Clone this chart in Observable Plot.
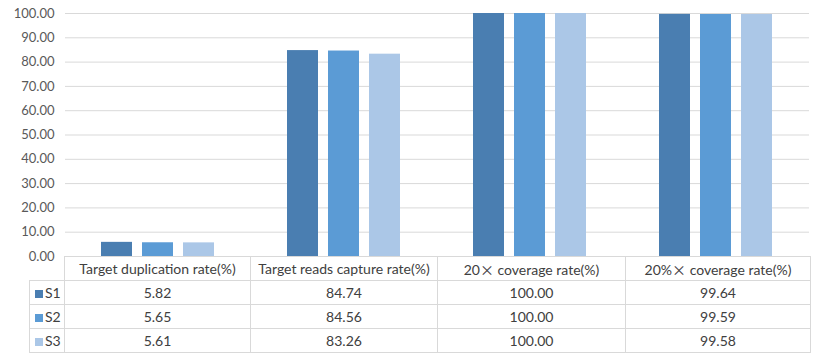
<!DOCTYPE html>
<html>
<head>
<meta charset="utf-8">
<script src="https://cdn.jsdelivr.net/npm/d3@7"></script>
<script src="https://cdn.jsdelivr.net/npm/@observablehq/plot@0.6"></script>
<style>
  html, body { margin: 0; padding: 0; background: #fff; }
  #wrap { position: relative; width: 820px; height: 362px; font-family: Lato, "Noto Sans", sans-serif; }
  #wrap svg { position: absolute; left: 0; top: 0; }
  table.dt { position: absolute; left: 29px; top: 256px; border-collapse: collapse; table-layout: fixed; font-size: 14px; color: #404040; }
  table.dt td { border: 1px solid #d9d9d9; height: 23px; padding: 0; text-align: center; white-space: nowrap; overflow: hidden; }
  table.dt td.blank { border-top: none; border-left: none; }
  table.dt td.leg { text-align: left; padding-left: 5px; }
  .sw { display: inline-block; width: 8px; height: 8px; margin-right: 2px; vertical-align: 0px; }
  .x { font-family: "Noto Sans CJK SC"; }
</style>
</head>
<body>
<div id="wrap"></div>
<script>
const categories = ["Target duplication rate(%)", "Target reads capture rate(%)", "20× coverage rate(%)", "20%× coverage rate(%)"];
const seriesNames = ["S1", "S2", "S3"];
const s1 = [5.82, 84.74, 100.00, 99.64];
const s2 = [5.65, 84.56, 100.00, 99.59];
const s3 = [5.61, 83.26, 100.00, 99.58];
const colors = ["#4a7eb1", "#5b9bd5", "#abc7e7"];
const yTicks = [0, 10, 20, 30, 40, 50, 60, 70, 80, 90, 100];

const seriesValues = [s1, s2, s3];
const data = [];
categories.forEach((c, i) => {
  seriesNames.forEach((s, j) => data.push({cat: c, series: s, value: seriesValues[j][i]}));
});

const chart = Plot.plot({
  width: 820,
  height: 270,
  marginLeft: 64,
  marginRight: 10,
  marginTop: 13,
  marginBottom: 14,
  style: {fontFamily: "Lato, 'Noto Sans', sans-serif", fontSize: "13px", background: "transparent", overflow: "visible"},
  fx: {domain: categories, axis: null, padding: 0},
  x: {domain: seriesNames, axis: null, paddingInner: 0.238, paddingOuter: 0.84},
  y: {domain: [0, 100]},
  color: {domain: seriesNames, range: colors},
  marks: [
    Plot.gridY(yTicks, {stroke: "#d9d9d9", strokeOpacity: 1, strokeWidth: 1}),
    Plot.axisY(yTicks, {tickSize: 0, tickPadding: 11, tickFormat: d => d.toFixed(2), fill: "#595959", fontSize: 13, label: null}),
    Plot.barY(data, {fx: "cat", x: "series", y: "value", fill: "series"})
  ]
});
const wrap = document.getElementById("wrap");
wrap.appendChild(chart);

// data table
const widths = [35, 186, 187, 188, 185];
const table = document.createElement("table");
table.className = "dt";
const cg = document.createElement("colgroup");
widths.forEach(w => { const col = document.createElement("col"); col.style.width = w + "px"; cg.appendChild(col); });
table.appendChild(cg);
const hr = document.createElement("tr");
const blank = document.createElement("td"); blank.className = "blank"; hr.appendChild(blank);
categories.forEach(c => {
  const td = document.createElement("td");
  td.innerHTML = c.replace("×", '<span class="x">×</span>');
  hr.appendChild(td);
});
table.appendChild(hr);
seriesNames.forEach((s, j) => {
  const tr = document.createElement("tr");
  const lg = document.createElement("td"); lg.className = "leg";
  const sw = document.createElement("span"); sw.className = "sw"; sw.style.background = colors[j];
  lg.appendChild(sw); lg.appendChild(document.createTextNode(s));
  tr.appendChild(lg);
  seriesValues[j].forEach(v => {
    const td = document.createElement("td"); td.textContent = v.toFixed(2); tr.appendChild(td);
  });
  table.appendChild(tr);
});
wrap.appendChild(table);
</script>
</body>
</html>
